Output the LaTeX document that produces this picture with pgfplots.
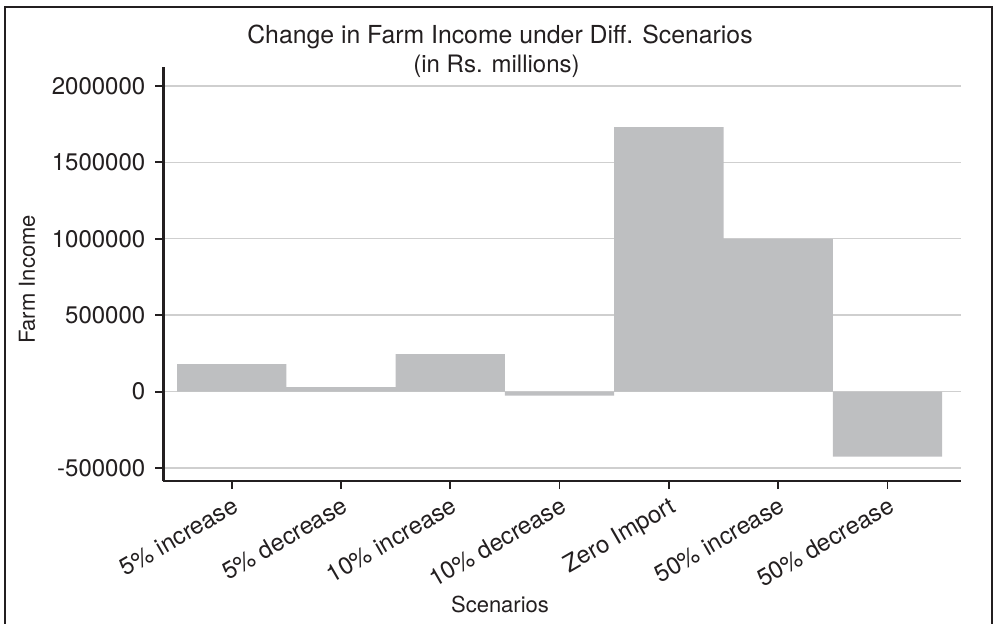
\documentclass[border=0pt]{standalone}
\usepackage{fontspec}
\setmainfont{TeX Gyre Heros}
\usepackage{pgfplots}
\pgfplotsset{compat=1.18}
\definecolor{barc}{HTML}{BEBFC1}
\definecolor{gridc}{HTML}{CFCFCF}
\definecolor{ink}{HTML}{231F20}
\begin{document}
\begin{tikzpicture}
\useasboundingbox (-81.65pt,-71pt) rectangle (416.35pt,240.5pt);
\draw[ink, line width=0.8pt] (-79.15pt,-72pt) -- (-79.15pt,237pt) -- (414.35pt,237pt) -- (414.35pt,-72pt);
\begin{axis}[
  scale only axis,
  width=398.7pt, height=207pt,
  xmin=-0.626, xmax=6.67,
  ymin=-585000, ymax=2124000,
  axis x line=bottom, axis y line=left,
  axis line style={-, ink, line width=1.3pt},
  tick align=outside,
  major tick length=4pt,
  every tick/.style={ink, line width=0.9pt},
  xtick={0,1,2,3,4,5,6},
  xticklabels={5\% increase,5\% decrease,10\% increase,10\% decrease,Zero Import,50\% increase,50\% decrease},
  ytick={-500000,0,500000,1000000,1500000,2000000},
  scaled y ticks=false,
  /pgf/number format/assume math mode=true,
  /pgf/number format/fixed,
  /pgf/number format/1000 sep={},
  yticklabel style={font=\fontsize{12}{14}\selectfont, text=ink, xshift=-1.5pt},
  xticklabel style={font=\fontsize{12}{14}\selectfont, text=ink, rotate=30, anchor=base east, inner sep=0pt, yshift=-11.5pt, xshift=-1.7pt},
  ymajorgrids,
  grid style={gridc, line width=0.7pt},
  ybar, bar width=1,
]
\addplot[fill=barc, draw=none] coordinates {
  (0,180000) (1,30000) (2,245000) (3,-27000) (4,1731000) (5,1000000) (6,-426000)
};
\end{axis}
\node[anchor=base, text=ink, font=\fontsize{12.4}{14}\selectfont] at (168.35pt,219pt) {Change in Farm Income under Diff. Scenarios};
\node[anchor=base, text=ink, font=\fontsize{12}{14}\selectfont] at (166.6pt,204.25pt) {(in Rs. millions)};
\node[rotate=90, text=ink, font=\fontsize{11}{13}\selectfont] at (-68.15pt,100.75pt) {Farm Income};
\node[anchor=base, text=ink, font=\fontsize{11}{13}\selectfont] at (168.35pt,-65.5pt) {Scenarios};
\end{tikzpicture}
\end{document}
